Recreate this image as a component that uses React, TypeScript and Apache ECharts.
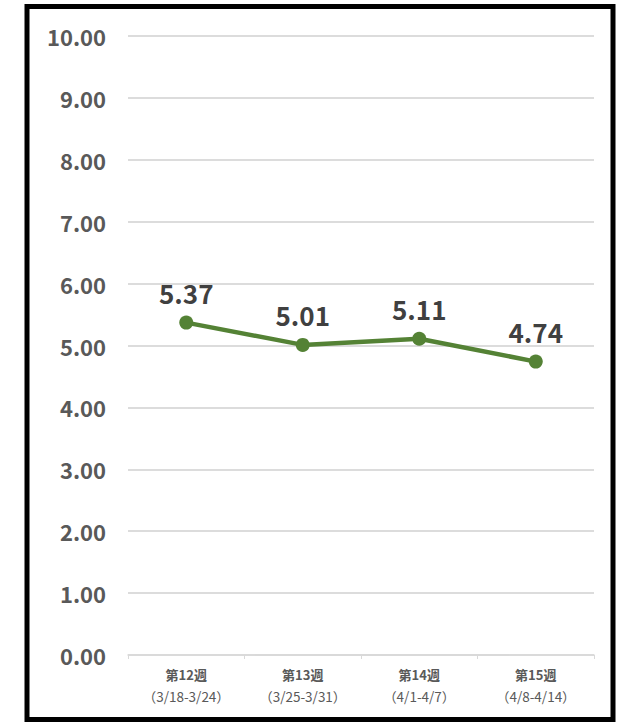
import React, { useEffect, useRef } from "react";
import * as echarts from "echarts";

const weeks = ["第12週", "第13週", "第14週", "第15週"];
const ranges = ["（3/18-3/24）", "（3/25-3/31）", "（4/1-4/7）", "（4/8-4/14）"];
const values = [5.37, 5.01, 5.11, 4.74];
const yMin = 0;
const yMax = 10;
const yStep = 1;

export default function App() {
  const ref = useRef<HTMLDivElement>(null);
  useEffect(() => {
    if (!ref.current) return;
    const chart = echarts.init(ref.current, null, { renderer: "svg" });
    const font = "'Noto Sans CJK JP', 'Noto Sans', sans-serif";
    chart.setOption({
      animation: false,
      backgroundColor: "#ffffff",
      graphic: [
        {
          type: "rect",
          shape: { x: 27, y: 6.5, width: 586, height: 713 },
          style: { fill: "none", stroke: "#000000", lineWidth: 5 },
          silent: true,
        },
      ],
      grid: { left: 128, right: 32, top: 36, bottom: 68, containLabel: false },
      xAxis: {
        type: "category",
        data: weeks.map((w, i) => w + "\n" + ranges[i]),
        boundaryGap: true,
        axisLine: { show: true, lineStyle: { color: "#d9d9d9", width: 1.5 } },
        axisTick: { show: true, length: 4, lineStyle: { color: "#d9d9d9" } },
        axisLabel: {
          interval: 0,
          margin: 8,
          fontFamily: font,
          color: "#595959",
          fontSize: 13,
          lineHeight: 22,
          formatter: (v: string) => {
            const [a, b] = v.split("\n");
            return "{a|" + a + "}\n{b|" + b + "}";
          },
          rich: {
            a: { fontFamily: font, fontSize: 13, fontWeight: "bold", color: "#595959", lineHeight: 22 },
            b: { fontFamily: font, fontSize: 13.5, color: "#595959", lineHeight: 22 },
          },
        },
      },
      yAxis: {
        type: "value",
        min: yMin,
        max: yMax,
        interval: yStep,
        axisLine: { show: false },
        axisTick: { show: false },
        splitLine: { lineStyle: { color: "#d0d0d0", width: 1.5 } },
        axisLabel: {
          margin: 22,
          fontFamily: font,
          fontWeight: "bold",
          fontSize: 22,
          color: "#595959",
          formatter: (v: number) => v.toFixed(2),
        },
      },
      series: [
        {
          type: "line",
          data: values,
          symbol: "circle",
          symbolSize: 14,
          lineStyle: { color: "#548235", width: 4.5 },
          itemStyle: { color: "#548235" },
          label: {
            show: true,
            position: "top",
            distance: 10,
            fontFamily: font,
            fontWeight: "bold",
            fontSize: 26,
            color: "#404040",
            formatter: (p: any) => Number(p.value).toFixed(2),
          },
        },
      ],
    });
    return () => chart.dispose();
  }, []);
  return (
    <div
      ref={ref}
      style={{ position: "fixed", left: 0, top: 0, width: 626, height: 723, background: "#fff" }}
    />
  );
}
